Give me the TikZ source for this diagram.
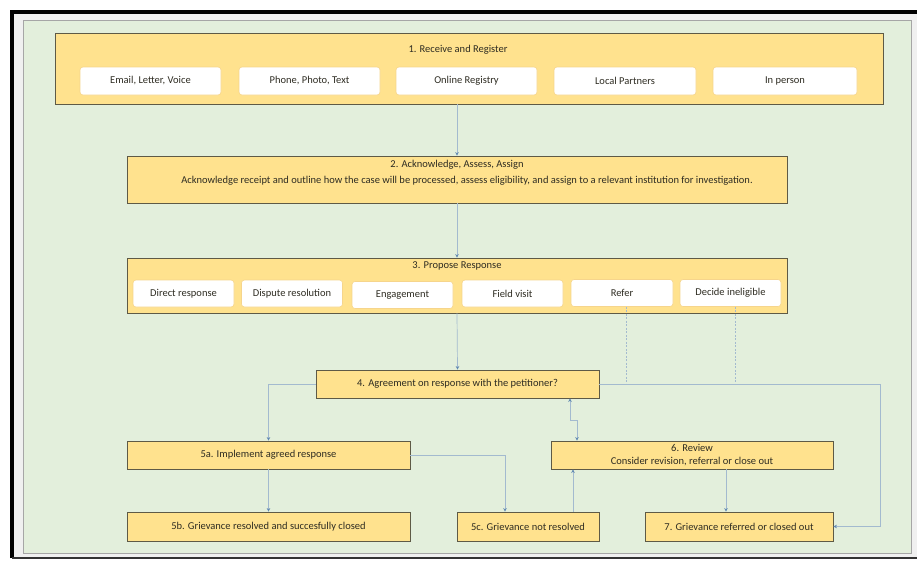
\documentclass[tikz,border=0pt]{standalone}
\usepackage{fontspec}
\setmainfont{Carlito}
\usetikzlibrary{arrows.meta,calc}
\definecolor{panel}{HTML}{E3EFDC}
\definecolor{boxfill}{HTML}{FFE28E}
\definecolor{boxline}{HTML}{5E5A46}
\definecolor{subline}{HTML}{F6D58C}
\definecolor{conn}{HTML}{A3BACF}
\definecolor{tipc}{HTML}{6289B2}
\definecolor{txt}{HTML}{2E2C22}
\tikzset{
  stage/.style={draw=boxline, line width=0.9pt, fill=boxfill, inner sep=0pt, font=\fontsize{10.5}{12.5}\selectfont, text=txt, align=center},
  subbox/.style={draw=subline, line width=0.6pt, fill=white, rounded corners=3pt, inner sep=0pt, minimum height=28pt, font=\fontsize{10.5}{12.5}\selectfont, text=txt},
  lbl/.style={font=\fontsize{10.5}{12.5}\selectfont, text=txt, inner sep=0pt},
  link/.style={draw=conn, line width=0.7pt, -{Stealth[length=3.5pt,width=3.5pt,color=tipc]}},
  blink/.style={draw=conn, line width=0.7pt, {Stealth[length=3.5pt,width=3.5pt,color=tipc]}-{Stealth[length=3.5pt,width=3.5pt,color=tipc]}},
  dlink/.style={draw=conn, line width=0.7pt, dash pattern=on 2pt off 1.5pt},
}
\begin{document}
\begin{tikzpicture}[x=1pt,y=-1pt]
\useasboundingbox (0,0) rectangle (917,563);
\fill[white] (0,0) rectangle (917,563);
% frame
\fill[gray!12] (12,12) rectangle (917,558);
\draw[black, line width=3.5pt] (12,558) -- (12,12) -- (920,12);
\draw[black!80, line width=2pt] (12,558) -- (917,558);
\draw[gray!70, line width=0.8pt, fill=panel] (23,20) rectangle (911,553);

% stage 1
\node[stage, minimum width=828pt, minimum height=71pt] (b1) at (469,68.5) {};
\node[lbl] (t1) at (458,50) {1. Receive and Register};
\node[subbox, minimum width=141pt] (s11) at (150.5,81) {Email, Letter, Voice};
\node[subbox, minimum width=141pt] (s12) at (309.5,81) {Phone, Photo, Text};
\node[subbox, minimum width=141pt] (s13) at (466.5,81) {Online Registry};
\node[subbox, minimum width=142pt] (s14) at (625,81) {Local Partners};
\node[subbox, minimum width=144pt] (s15) at (785,81) {In person};

% stage 2
\node[stage, minimum width=660pt, minimum height=47pt] (b2) at (457,179.5) {};
\node[lbl] (t2a) at (457,165) {2. Acknowledge, Assess, Assign};
\node[lbl] (t2b) at (467,181) {Acknowledge receipt and outline how the case will be processed, assess eligibility, and assign to a relevant institution for investigation.};

% stage 3
\node[stage, minimum width=660pt, minimum height=55pt] (b3) at (457,285.5) {};
\node[lbl] (t3) at (457,266) {3. Propose Response};
\node[subbox, minimum width=101pt, minimum height=27pt] (s31) at (183.5,293.5) {Direct response};
\node[subbox, minimum width=101pt, minimum height=27pt] (s32) at (292,293.5) {Dispute resolution};
\node[subbox, minimum width=101pt, minimum height=27pt] (s33) at (402.5,295) {Engagement};
\node[subbox, minimum width=101pt, minimum height=27pt] (s34) at (512.5,293.5) {Field visit};
\node[subbox, minimum width=102pt, minimum height=27pt] (s35) at (622,293) {Refer};
\node[subbox, minimum width=101pt, minimum height=27pt] (s36) at (730.5,293) {Decide ineligible};

% lower stages
\node[stage, minimum width=283pt, minimum height=28pt] (b4) at (457.5,384) {4. Agreement on response with the petitioner?};
\node[stage, minimum width=283pt, minimum height=28pt] (b5a) at (268.5,455) {5a. Implement agreed response};
\node[stage, minimum width=283pt, minimum height=29pt] (b5b) at (268.5,526.5) {5b. Grievance resolved and succesfully closed};
\node[stage, minimum width=142pt, minimum height=29pt] (b5c) at (528,526.5) {5c. Grievance not resolved};
\node[stage, minimum width=282pt, minimum height=28pt] (b6) at (692,455) {6. Review\\Consider revision, referral or close out};
\node[stage, minimum width=188pt, minimum height=29pt] (b7) at (739,526.5) {7. Grievance referred or closed out};

% helper coordinates
\coordinate (k5c) at (505,0);
\coordinate (k6) at (573,0);
\coordinate (k7) at (726,0);
\coordinate (kr) at (880,0);
\coordinate (kd1) at (626,0);
\coordinate (kd2) at (735,0);
\coordinate (j1) at (570,420);
\coordinate (j2) at (577,420);

% connectors
\draw[link] (b1.south -| b2.north) -- (b2.north);
\draw[link] (b2.south) -- (b3.north);
\draw[link] (b3.south) -- (b4.north);
\draw[link] (b4.west) -| (b5a.north);
\draw[link] (b5a.south) -- (b5b.north);
\draw[link] (b5a.east) -| (b5c.north -| k5c);
\draw[link] (b5c.north -| k6) -- (b6.south -| k6);
\draw[link] (b6.south -| k7) -- (b7.north -| k7);
\draw[link] (b4.east) -- (b4.east -| kr) |- (b7.east);
\draw[dlink] (s35.south -| kd1) -- (b4.east -| kd1);
\draw[dlink] (s36.south -| kd2) -- (b4.east -| kd2);
\draw[blink] (b4.south -| j1) -- (j1) -- (j2) -- (b6.north -| j2);
\end{tikzpicture}
\end{document}
